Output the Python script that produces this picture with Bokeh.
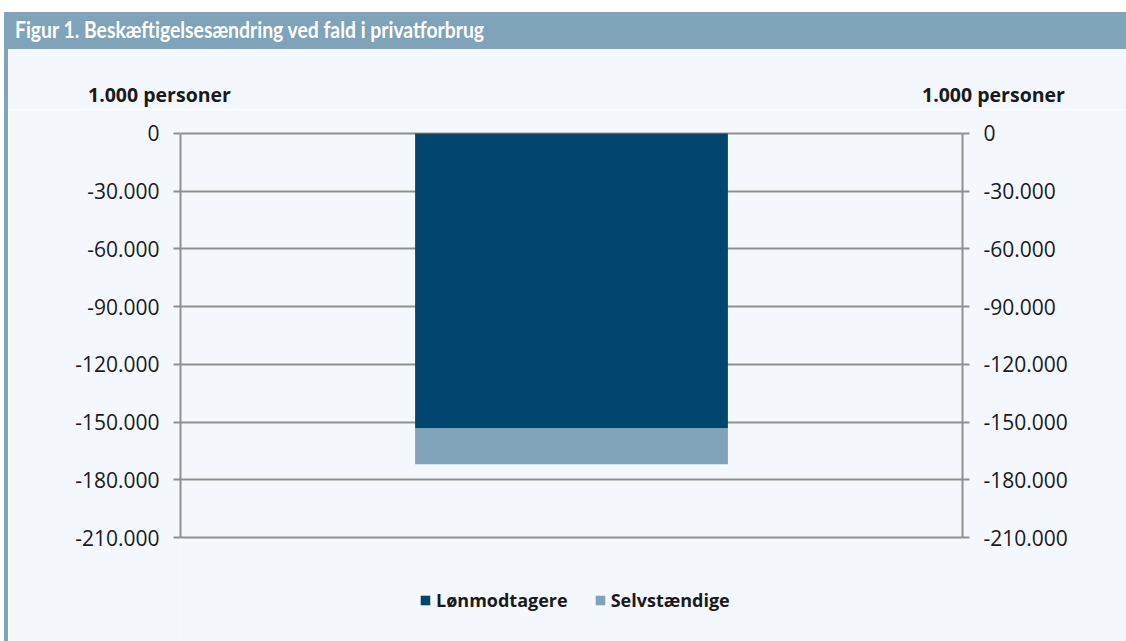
from bokeh.plotting import figure
from bokeh.models import (ColumnDataSource, FactorRange, Range1d, LinearAxis, FixedTicker,
                          CustomJSTickFormatter, Legend, LegendItem, Div)
from bokeh.layouts import column, row
from bokeh.embed import file_html
from bokeh.resources import INLINE

# ---- data ----
categories = ["Fald i privatforbrug"]
series = ["Lønmodtagere", "Selvstændige"]
loenmodtagere = [-153300]
selvstaendige = [-18600]
y_ticks = [0, -30000, -60000, -90000, -120000, -150000, -180000, -210000]
title_text = "Figur 1. Beskæftigelsesændring ved fald i privatforbrug"
axis_title = "1.000 personer"

# ---- styles ----
BG = "#F4F8FC"
DARK = "#00466E"
LIGHT = "#7FA3B8"
GRID = "#909090"
TXT = "#1A1A1A"
FONT = "Open Sans"

source = ColumnDataSource(data={"kategori": categories,
                                series[0]: loenmodtagere,
                                series[1]: selvstaendige})

# the plotting frame reaches down to the bottom edge so the legend can sit inside it;
# the axes are bounded to the tick span
p = figure(width=1118, height=532,
           x_range=FactorRange(factors=categories),
           y_range=Range1d(-264000, 1000),
           x_axis_location=None,
           output_backend="svg", toolbar_location=None,
           min_border_left=172, min_border_right=164,
           min_border_top=22, min_border_bottom=0,
           background_fill_color=BG, border_fill_color=BG,
           outline_line_color=None, margin=0)

renderers = p.vbar_stack(series, x="kategori", width=0.4, color=[DARK, LIGHT],
                         line_color=None, source=source)

fmt_code = """
const s = Math.abs(tick).toFixed(0).replace(/\\B(?=(\\d{3})+(?!\\d))/g, '.');
return (tick < 0 ? '-' : '') + s;
"""

def style_axis(ax):
    ax.ticker = FixedTicker(ticks=y_ticks)
    ax.bounds = (y_ticks[-1], y_ticks[0])
    ax.formatter = CustomJSTickFormatter(code=fmt_code)
    ax.axis_line_color = GRID
    ax.axis_line_width = 2
    ax.major_tick_line_color = GRID
    ax.major_tick_line_width = 2
    ax.major_tick_in = 0
    ax.major_tick_out = 7
    ax.minor_tick_line_color = None
    ax.major_label_text_font = FONT
    ax.major_label_text_font_size = "21px"
    ax.major_label_text_color = TXT
    ax.major_label_standoff = 14

style_axis(p.yaxis[0])
right_axis = LinearAxis()
style_axis(right_axis)
p.add_layout(right_axis, "right")

p.xgrid.visible = False
p.ygrid.ticker = FixedTicker(ticks=y_ticks)
p.ygrid.bounds = (y_ticks[-1], y_ticks[0])
p.ygrid.grid_line_color = GRID
p.ygrid.grid_line_width = 2

legend = Legend(items=[LegendItem(label=s, renderers=[r]) for s, r in zip(series, renderers)],
                orientation="horizontal", location=(239, 29),
                glyph_width=12, glyph_height=12, label_height=12, label_standoff=5, spacing=26,
                label_text_font=FONT, label_text_font_style="bold",
                label_text_font_size="18px", label_text_color=TXT,
                padding=0, margin=0, background_fill_alpha=0, border_line_color=None)
p.add_layout(legend, "center")

header = Div(text=('<span style="display:inline-block;transform:scaleX(0.86);'
                   f'transform-origin:left center;">{title_text}</span>'),
             width=1122, height=37, margin=0,
             styles={"background-color": LIGHT, "color": "white",
                     "font-family": "Lato", "font-weight": "bold",
                     "font-size": "22.5px", "line-height": "36px", "padding-left": "11px",
                     "box-sizing": "border-box", "white-space": "nowrap"})

labels_html = (
    '<div style="position:relative;width:1118px;height:60px;">'
    f'<span style="position:absolute;left:80px;top:34px;line-height:24px;">{axis_title}</span>'
    f'<span style="position:absolute;left:914px;top:34px;line-height:24px;">{axis_title}</span>'
    '</div>'
)
labels = Div(text=labels_html, width=1118, height=60, margin=0,
             styles={"background-color": BG, "color": TXT, "font-family": FONT,
                     "font-weight": "bold", "font-size": "19.5px"})

stripe = Div(text="", width=4, height=592, margin=0, styles={"background-color": LIGHT})

root = column(header, row(stripe, column(labels, p, margin=0, spacing=0), margin=0, spacing=0),
              margin=(12, 0, 0, 4), spacing=0)

open("out.html", "w").write(file_html(root, INLINE))
